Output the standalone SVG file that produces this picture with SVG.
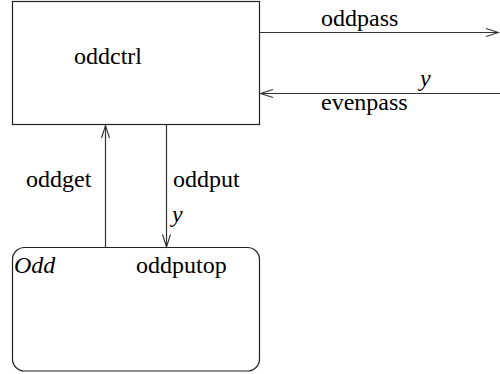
<svg xmlns="http://www.w3.org/2000/svg" width="500" height="374" viewBox="0 0 500 374">
  <style>
    .box { fill: #ffffff; stroke: #222222; stroke-width: 1.2; }
    .wire { fill: none; stroke: #333333; stroke-width: 1.2; }
    .head { fill: none; stroke: #333333; stroke-width: 1.1; }
  </style>
  <rect width="500" height="374" fill="#ffffff"/>

  <g id="oddctrl">
    <rect class="box" x="12.5" y="1.5" width="247" height="123"/>
    <text x="74" y="64"><tspan font-family="Liberation Serif, serif" font-size="24">oddctrl</tspan></text>
  </g>

  <g id="Odd">
    <rect class="box" x="12.5" y="247.5" width="247" height="123.5" rx="12" ry="12"/>
    <text x="14" y="273"><tspan font-family="Liberation Serif, serif" font-size="24" font-style="italic">Odd</tspan></text>
    <text x="136" y="273"><tspan font-family="Liberation Serif, serif" font-size="24">oddputop</tspan></text>
  </g>

  <g id="connectors">
    <!-- oddpass: oddctrl to the right -->
    <line class="wire" x1="259.5" y1="32.5" x2="498" y2="32.5"/>
    <polyline class="head" points="486,28.5 498.5,32.5 486,36.5"/>
    <text x="321" y="26"><tspan font-family="Liberation Serif, serif" font-size="24">oddpass</tspan></text>

    <!-- evenpass: from the right into oddctrl -->
    <line class="wire" x1="500" y1="93.5" x2="261" y2="93.5"/>
    <polyline class="head" points="273,89.5 260.5,93.5 273,97.5"/>
    <text x="420" y="86"><tspan font-family="Liberation Serif, serif" font-size="24" font-style="italic">y</tspan></text>
    <text x="321" y="110"><tspan font-family="Liberation Serif, serif" font-size="24">evenpass</tspan></text>

    <!-- oddget: Odd up to oddctrl -->
    <line class="wire" x1="105.5" y1="247.5" x2="105.5" y2="126"/>
    <polyline class="head" points="101.5,138 105.5,125.5 109.5,138"/>
    <text x="26" y="187"><tspan font-family="Liberation Serif, serif" font-size="24">oddget</tspan></text>

    <!-- oddput: oddctrl down to Odd -->
    <line class="wire" x1="166.5" y1="124.5" x2="166.5" y2="246.5"/>
    <polyline class="head" points="162.5,234.5 166.5,247 170.5,234.5"/>
    <text x="173" y="187"><tspan font-family="Liberation Serif, serif" font-size="24">oddput</tspan></text>
    <text x="172" y="222"><tspan font-family="Liberation Serif, serif" font-size="24" font-style="italic">y</tspan></text>
  </g>
</svg>
